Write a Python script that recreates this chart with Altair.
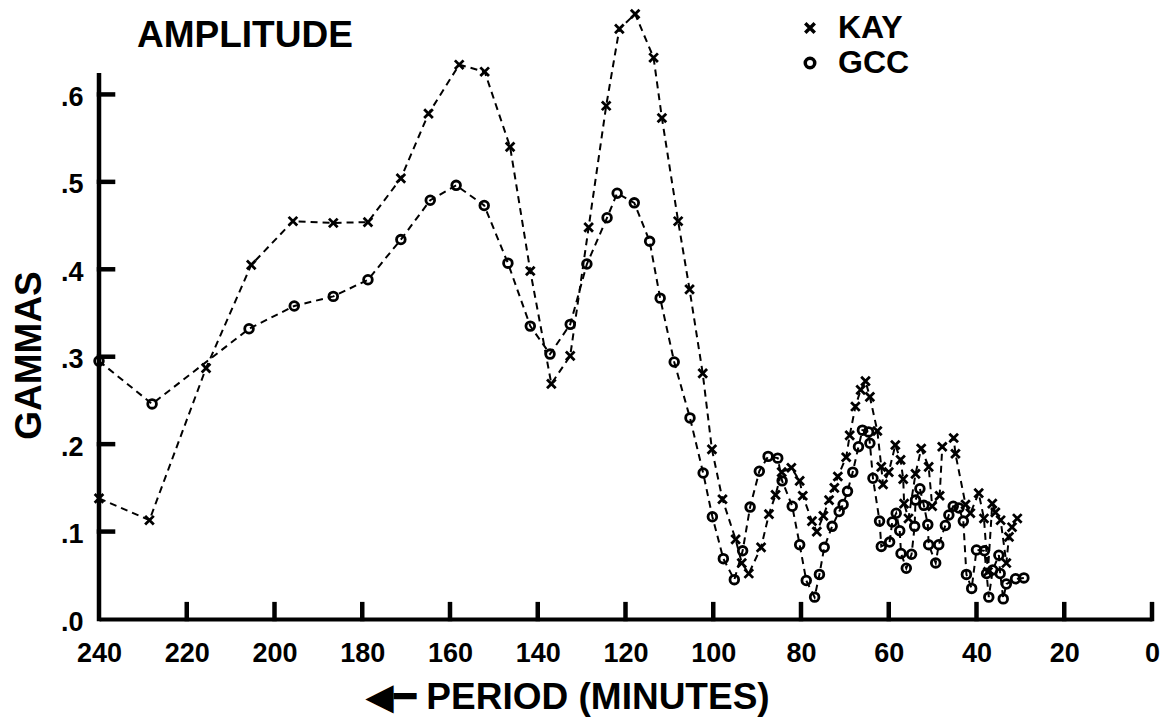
import altair as alt
import pandas as pd

# ---- data ----
kay_period = [240, 228.5, 215.6, 205.3, 195.8, 186.6, 178.7, 171.2, 164.9, 157.9,
              152.1, 146.3, 141.7, 136.9, 132.6, 128.4, 124.4, 121.4, 117.8, 113.6,
              111.7, 108.0, 105.4, 102.4, 100.3, 97.9, 94.9, 93.5, 91.9, 89.1,
              87.3, 85.8, 84.4, 82.2, 80.3, 79.6, 77.5, 76.4, 74.9, 73.6,
              72.4, 71.6, 69.7, 68.9, 67.6, 66.4, 65.3, 64.3, 62.6, 61.7,
              61.3, 60.0, 58.5, 57.3, 56.7, 56.5, 55.5, 53.9, 52.6, 50.9,
              50.1, 48.4, 47.8, 45.2, 44.8, 42.5, 41.4, 39.5, 38.3, 37.4,
              36.4, 35.7, 34.5, 33.2, 32.6, 31.9, 30.7]
kay_amp = [0.138, 0.113, 0.287, 0.405, 0.455, 0.453, 0.454, 0.504, 0.578, 0.634,
           0.626, 0.540, 0.398, 0.269, 0.301, 0.448, 0.587, 0.675, 0.692, 0.642,
           0.573, 0.455, 0.377, 0.281, 0.194, 0.137, 0.091, 0.064, 0.052, 0.082,
           0.120, 0.142, 0.168, 0.173, 0.158, 0.141, 0.112, 0.100, 0.118, 0.136,
           0.150, 0.163, 0.185, 0.210, 0.243, 0.262, 0.272, 0.254, 0.215, 0.174,
           0.154, 0.168, 0.199, 0.182, 0.160, 0.132, 0.115, 0.166, 0.195, 0.174,
           0.129, 0.141, 0.197, 0.207, 0.189, 0.131, 0.121, 0.144, 0.115, 0.054,
           0.132, 0.122, 0.113, 0.064, 0.094, 0.105, 0.115]

gcc_period = [240, 227.9, 205.8, 195.5, 186.6, 178.7, 171.2, 164.5, 158.6, 152.2,
              146.8, 141.7, 137.2, 132.6, 128.8, 124.2, 121.9, 118.0, 114.5, 112.1,
              108.9, 105.3, 102.3, 100.2, 97.7, 95.2, 93.3, 91.6, 89.5, 87.5,
              85.3, 84.3, 82.0, 80.3, 78.8, 76.9, 75.8, 74.7, 72.9, 71.3,
              70.4, 69.4, 68.2, 66.9, 66.0, 64.6, 64.3, 63.6, 62.1, 61.7,
              59.8, 59.2, 58.3, 57.5, 57.2, 56.0, 54.8, 54.1, 53.9, 52.9,
              52.0, 51.1, 50.9, 49.3, 48.6, 47.1, 46.3, 45.3, 44.0, 43.0,
              42.3, 41.1, 40.0, 38.2, 37.7, 37.2, 36.3, 34.9, 34.6, 33.9,
              33.2, 31.1, 29.2]
gcc_amp = [0.295, 0.246, 0.332, 0.358, 0.369, 0.388, 0.434, 0.479, 0.496, 0.473,
           0.407, 0.335, 0.303, 0.337, 0.406, 0.459, 0.487, 0.476, 0.432, 0.367,
           0.294, 0.230, 0.167, 0.117, 0.069, 0.045, 0.078, 0.128, 0.169, 0.186,
           0.184, 0.158, 0.129, 0.085, 0.044, 0.025, 0.051, 0.082, 0.106, 0.123,
           0.131, 0.146, 0.168, 0.197, 0.216, 0.214, 0.201, 0.161, 0.112, 0.083,
           0.088, 0.111, 0.121, 0.101, 0.075, 0.058, 0.074, 0.106, 0.136, 0.149,
           0.130, 0.108, 0.085, 0.064, 0.085, 0.107, 0.119, 0.129, 0.127, 0.112,
           0.051, 0.035, 0.079, 0.078, 0.052, 0.025, 0.056, 0.073, 0.052, 0.023,
           0.040, 0.046, 0.047]

x_ticks = [240, 220, 200, 180, 160, 140, 120, 100, 80, 60, 40, 20, 0]
y_ticks = [0.0, 0.1, 0.2, 0.3, 0.4, 0.5, 0.6]
y_axis_top = 0.622

FONT = "Liberation Sans"
W, H = 1053, 612
X_TICK_LEN = 0.017   # tick length in amplitude units (~15 px)
Y_TICK_LEN = 3.2     # tick length in minutes (~14 px)

rows = []
for i, (p, a) in enumerate(zip(kay_period, kay_amp)):
    rows.append({"series": "KAY", "period": p, "amp": a, "idx": i})
for i, (p, a) in enumerate(zip(gcc_period, gcc_amp)):
    rows.append({"series": "GCC", "period": p, "amp": a, "idx": i})
df = pd.DataFrame(rows)

# axis frame pieces (ticks + the short vertical axis line) in one table
frame_rows = [{"x0": 240, "x1": 240, "y0": 0.0, "y1": y_axis_top}]
for t in y_ticks:
    if t > 0:
        frame_rows.append({"x0": 240, "x1": 240 - Y_TICK_LEN, "y0": t, "y1": t})
for t in x_ticks:
    if t < 240:
        frame_rows.append({"x0": t, "x1": t, "y0": 0.0, "y1": X_TICK_LEN})
frame_df = pd.DataFrame(frame_rows)

xscale = alt.Scale(domain=[240, 0], nice=False, zero=False)
yscale = alt.Scale(domain=[0, 0.7], nice=False)

xaxis = alt.Axis(values=x_ticks, format="d", title="◀━ PERIOD (MINUTES)",
                 labelFont=FONT, labelFontSize=27, labelFontWeight="bold",
                 labelColor="black", labelPadding=21, ticks=False, tickSize=0,
                 domainColor="black", domainWidth=4, grid=False,
                 labelFlush=False, labelOverlap=False,
                 titleFont=FONT + ", DejaVu Sans", titleFontSize=37, titleFontWeight="bold",
                 titleColor="black", titleX=468, titleY=78,
                 titleBaseline="middle", titleAlign="center")
yaxis = alt.Axis(values=y_ticks, labelExpr="replace(format(datum.value, '.1f'), '0.', '.')",
                 title="GAMMAS", labelFont=FONT, labelFontSize=27,
                 labelFontWeight="bold", labelColor="black", labelPadding=16,
                 labelOffset=3, ticks=False, tickSize=0, domain=False, grid=False,
                 titleFont=FONT, titleFontSize=37, titleFontWeight="bold",
                 titleColor="black", titleAngle=-90, titleX=-70, titleY=348,
                 titleAlign="center", titleBaseline="middle")

base = alt.Chart(df)

lines = base.mark_line(strokeDash=[7, 5], strokeWidth=2, color="black").encode(
    x=alt.X("period:Q", scale=xscale, axis=xaxis),
    y=alt.Y("amp:Q", scale=yscale, axis=yaxis),
    detail="series:N",
    order="idx:Q",
)

xpath = "M-1,-1L1,1M-1,1L1,-1"
points = base.mark_point(filled=False, strokeWidth=2.8, color="black", opacity=1, size=75).encode(
    x=alt.X("period:Q", scale=xscale),
    y=alt.Y("amp:Q", scale=yscale),
    shape=alt.Shape("series:N",
                    scale=alt.Scale(domain=["KAY", "GCC"], range=[xpath, "circle"]),
                    legend=alt.Legend(title=None, orient="none", legendX=695, legendY=5,
                                      labelFont=FONT, labelFontSize=32,
                                      labelFontWeight="bold", labelColor="black",
                                      symbolStrokeColor="black", symbolStrokeWidth=3.5,
                                      symbolSize=90, symbolFillColor="white",
                                      labelOffset=12, rowPadding=3, padding=0)),
)

frame = alt.Chart(frame_df).mark_rule(color="black", strokeWidth=4.5, strokeCap="square").encode(
    x=alt.X("x0:Q", scale=xscale),
    x2="x1:Q",
    y=alt.Y("y0:Q", scale=yscale),
    y2="y1:Q",
)

title = alt.Chart(pd.DataFrame({"t": ["AMPLITUDE"]})).mark_text(
    font=FONT, fontSize=37, fontWeight="bold", color="black",
    align="left", baseline="middle").encode(
    text="t:N", x=alt.value(38), y=alt.value(29))

chart = alt.layer(frame, lines, points, title).properties(
    width=W, height=H,
    autosize=alt.AutoSizeParams(type="none"),
    padding={"left": 99, "top": 7, "right": 20, "bottom": 100},
    background="white",
).configure_view(stroke=None)

chart.save("out.html", embed_options={"renderer": "svg", "actions": False})
